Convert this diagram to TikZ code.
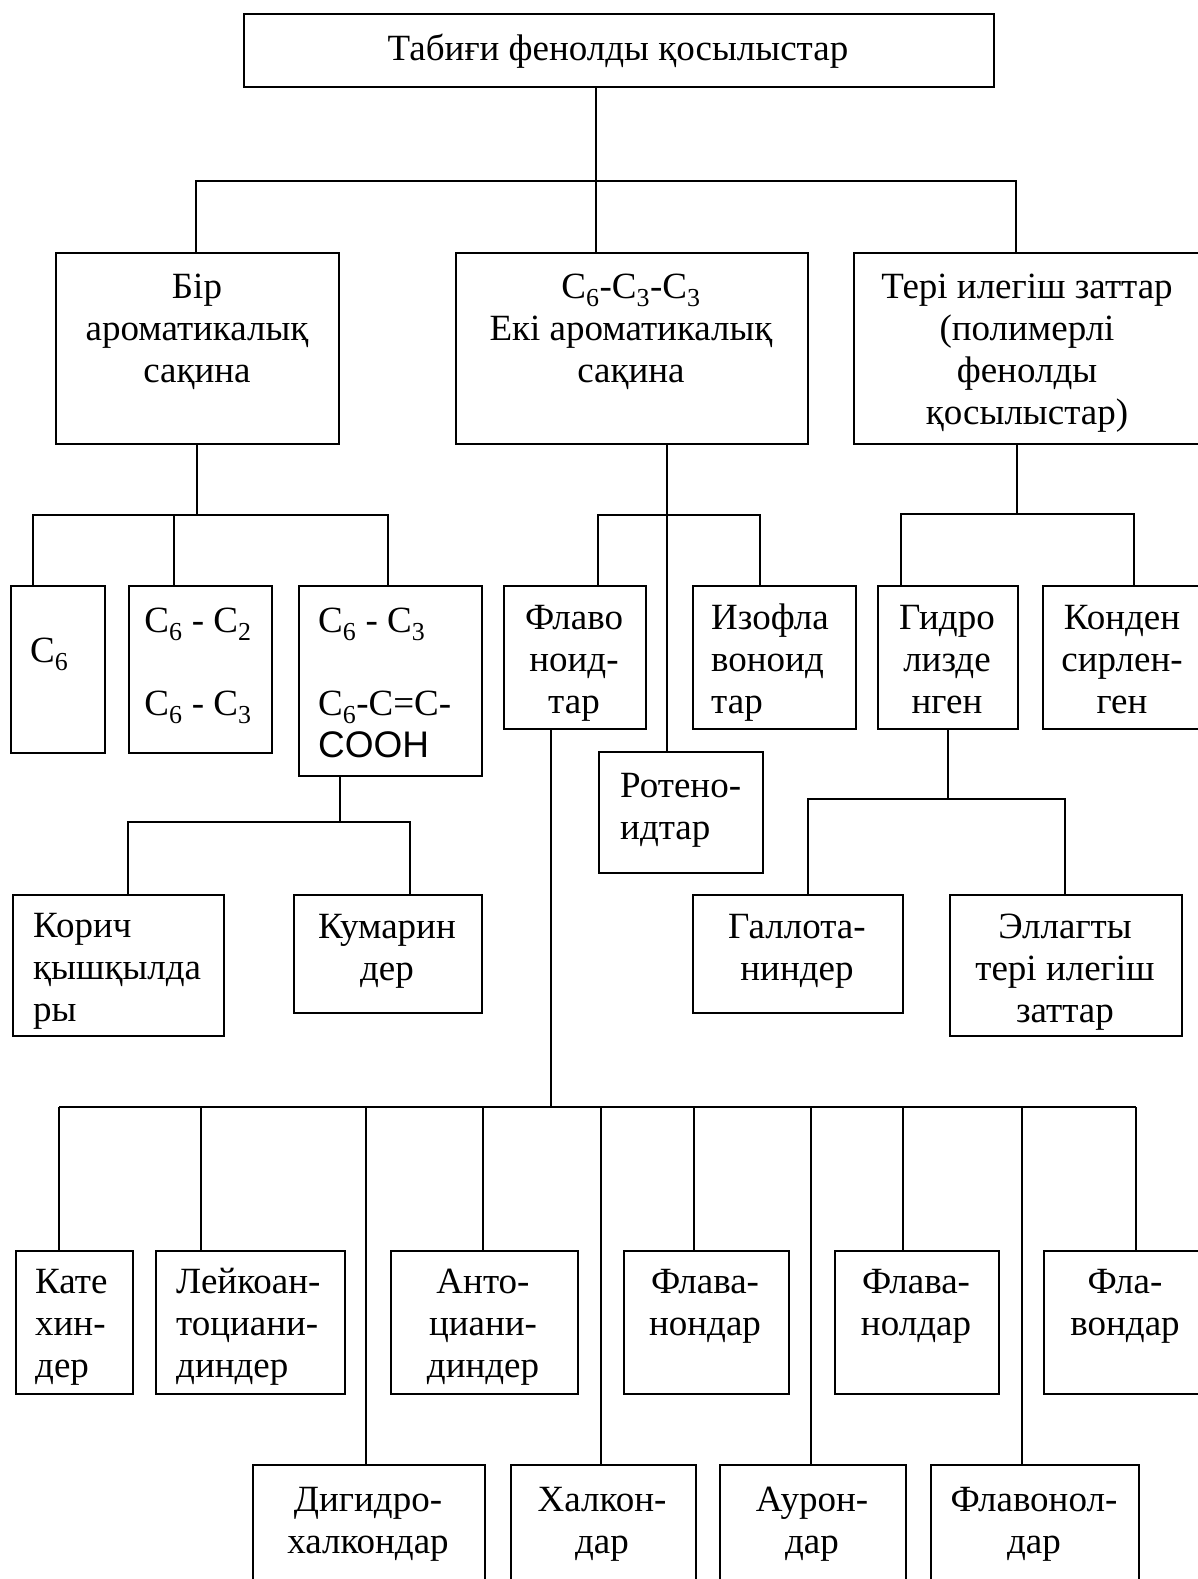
\documentclass[tikz,border=0pt]{standalone}
\usepackage{fontspec}
\setmainfont{Liberation Serif}
\newfontfamily\acidfont{Liberation Sans}
\usetikzlibrary{positioning}

\begin{document}
\begin{tikzpicture}[x=1pt, y=-1pt,
    box/.style={rectangle, draw, line width=2.2pt, inner sep=0pt, anchor=north west},
    lbl/.style={align=center, inner sep=0pt, anchor=base, font=\fontsize{37}{42}\selectfont},
    lbll/.style={lbl, align=left, anchor=base west},
    ln/.style={line width=2.2pt}
]
    \useasboundingbox (0,0) rectangle (1198,1579);
    \clip (0,0) rectangle (1198,1579);

    % Root box (labels sit on the baseline of their last line)
    \node[box, minimum width=750pt, minimum height=73pt] (root) at (243,13) {};
    \node[lbl] (rootT) at (618,60) {Табиғи фенолды қосылыстар};

    % Second level
    \node[box, minimum width=283pt, minimum height=191pt] (bir) at (55,252) {};
    \node[box, minimum width=352pt, minimum height=191pt] (mid) at (455,252) {};
    \node[box, minimum width=348pt, minimum height=191pt] (teri) at (853,252) {};
    \node[lbl] (birT) at (197,382) {Бір\\ароматикалық\\сақина};
    \node[lbl] (midT) at (631,382) {C\textsubscript{6}-C\textsubscript{3}-C\textsubscript{3}\\Екі ароматикалық\\сақина};
    \node[lbl] (teriT) at (1027,424) {Тері илегіш заттар\\(полимерлі\\фенолды\\қосылыстар)};

    % One aromatic ring
    \node[box, minimum width=94pt, minimum height=167pt] (c6) at (10,585) {};
    \node[box, minimum width=143pt, minimum height=167pt] (c6c2) at (128,585) {};
    \node[box, minimum width=183pt, minimum height=190pt] (c6c3) at (298,585) {};
    \node[lbll] (c6T) at (30,662) {C\textsubscript{6}};
    \node[lbl] (c6c2T) at (198,715) {C\textsubscript{6} - C\textsubscript{2}\\[41pt]C\textsubscript{6} - C\textsubscript{3}};
    \node[lbll] (c6c3T) at (318,757) {C\textsubscript{6} - C\textsubscript{3}\\[41pt]C\textsubscript{6}-C=C-\\{\acidfont COOH}};

    \node[box, minimum width=211pt, minimum height=141pt] (korich) at (12,894) {};
    \node[box, minimum width=188pt, minimum height=118pt] (kumarin) at (293,894) {};
    \node[lbll] (korichT) at (33,1021) {Корич\\қышқылда\\ры};
    \node[lbl] (kumarinT) at (387,980) {Кумарин\\дер};

    % Two aromatic rings
    \node[box, minimum width=142pt, minimum height=143pt] (flavo) at (503,585) {};
    \node[box, minimum width=163pt, minimum height=143pt] (izo) at (692,585) {};
    \node[box, minimum width=164pt, minimum height=121pt] (rot) at (598,751) {};
    \node[lbl] (flavoT) at (574,713) {Флаво\\ноид-\\тар};
    \node[lbll] (izoT) at (711,713) {Изофла\\воноид\\тар};
    \node[lbll] (rotT) at (620,839) {Ротено-\\идтар};

    % Tannins
    \node[box, minimum width=140pt, minimum height=143pt] (gidro) at (877,585) {};
    \node[box, minimum width=160pt, minimum height=143pt] (konden) at (1042,585) {};
    \node[lbl] (gidroT) at (947,713) {Гидро\\лизде\\нген};
    \node[lbl] (kondenT) at (1122,713) {Конден\\сирлен-\\ген};

    \node[box, minimum width=210pt, minimum height=118pt] (gall) at (692,894) {};
    \node[box, minimum width=232pt, minimum height=141pt] (ell) at (949,894) {};
    \node[lbl] (gallT) at (797,980) {Галлота-\\ниндер};
    \node[lbl] (ellT) at (1065,1022) {Эллагты\\тері илегіш\\заттар};

    % Flavonoid groups, upper row
    \node[box, minimum width=117pt, minimum height=143pt] (kate) at (15,1250) {};
    \node[box, minimum width=189pt, minimum height=143pt] (leik) at (155,1250) {};
    \node[box, minimum width=187pt, minimum height=143pt] (anto) at (390,1250) {};
    \node[box, minimum width=165pt, minimum height=143pt] (flvn) at (623,1250) {};
    \node[box, minimum width=164pt, minimum height=143pt] (flvl) at (834,1250) {};
    \node[box, minimum width=164pt, minimum height=143pt] (flvd) at (1043,1250) {};
    \node[lbll] (kateT) at (35,1377) {Кате\\хин-\\дер};
    \node[lbll] (leikT) at (176,1377) {Лейкоан-\\тоциани-\\диндер};
    \node[lbl] (antoT) at (483,1377) {Анто-\\циани-\\диндер};
    \node[lbl] (flvnT) at (705,1335) {Флава-\\нондар};
    \node[lbl] (flvlT) at (916,1335) {Флава-\\нолдар};
    \node[lbl] (flvdT) at (1125,1335) {Фла-\\вондар};

    % Flavonoid groups, lower row
    \node[box, minimum width=232pt, minimum height=140pt] (dig) at (252,1464) {};
    \node[box, minimum width=185pt, minimum height=140pt] (halk) at (510,1464) {};
    \node[box, minimum width=186pt, minimum height=140pt] (aur) at (719,1464) {};
    \node[box, minimum width=208pt, minimum height=140pt] (flvon) at (930,1464) {};
    \node[lbl] (digT) at (368,1553) {Дигидро-\\халкондар};
    \node[lbl] (halkT) at (602,1553) {Халкон-\\дар};
    \node[lbl] (aurT) at (812,1553) {Аурон-\\дар};
    \node[lbl] (flvonT) at (1034,1553) {Флавонол-\\дар};

    % Junctions
    \coordinate (j0) at (596,181);
    \coordinate (j0a) at (196,181);
    \coordinate (j0b) at (1016,181);
    \coordinate (j1) at (197,515);
    \coordinate (j1a) at (33,515);
    \coordinate (j1b) at (174,515);
    \coordinate (j1c) at (388,515);
    \coordinate (j2) at (667,515);
    \coordinate (j2a) at (598,515);
    \coordinate (j2b) at (760,515);
    \coordinate (j3) at (1017,514);
    \coordinate (j3a) at (901,514);
    \coordinate (j3b) at (1134,514);
    \coordinate (j4) at (340,822);
    \coordinate (j4a) at (128,822);
    \coordinate (j4b) at (410,822);
    \coordinate (j5) at (948,799);
    \coordinate (j5a) at (808,799);
    \coordinate (j5b) at (1065,799);
    \coordinate (bus) at (551,1107);

    % Connectors
    \draw[ln] (j0 |- root.south) -- (j0 |- mid.north);
    \draw[ln] (j0a |- bir.north) -- (j0a) -- (j0b) -- (j0b |- teri.north);

    \draw[ln] (j1 |- bir.south) -- (j1);
    \draw[ln] (j1a |- c6.north) -- (j1a) -- (j1c) -- (j1c |- c6c3.north);
    \draw[ln] (j1b) -- (j1b |- c6c2.north);

    \draw[ln] (j2 |- mid.south) -- (j2 |- rot.north);
    \draw[ln] (j2a |- flavo.north) -- (j2a) -- (j2b) -- (j2b |- izo.north);

    \draw[ln] (j3 |- teri.south) -- (j3);
    \draw[ln] (j3a |- gidro.north) -- (j3a) -- (j3b) -- (j3b |- konden.north);

    \draw[ln] (j4 |- c6c3.south) -- (j4);
    \draw[ln] (j4a |- korich.north) -- (j4a) -- (j4b) -- (j4b |- kumarin.north);

    \draw[ln] (j5 |- gidro.south) -- (j5);
    \draw[ln] (j5a |- gall.north) -- (j5a) -- (j5b) -- (j5b |- ell.north);

    \draw[ln] (bus |- flavo.south) -- (bus);
    \draw[ln] (bus -| 59,0) -- (bus -| 1136,0);
    \foreach \x/\n in {59/kate, 201/leik, 366/dig, 483/anto, 601/halk,
                       694/flvn, 811/aur, 903/flvl, 1022/flvon, 1136/flvd}
        \draw[ln] (bus -| \x,0) -- (\n.north -| \x,0);
\end{tikzpicture}
\end{document}
